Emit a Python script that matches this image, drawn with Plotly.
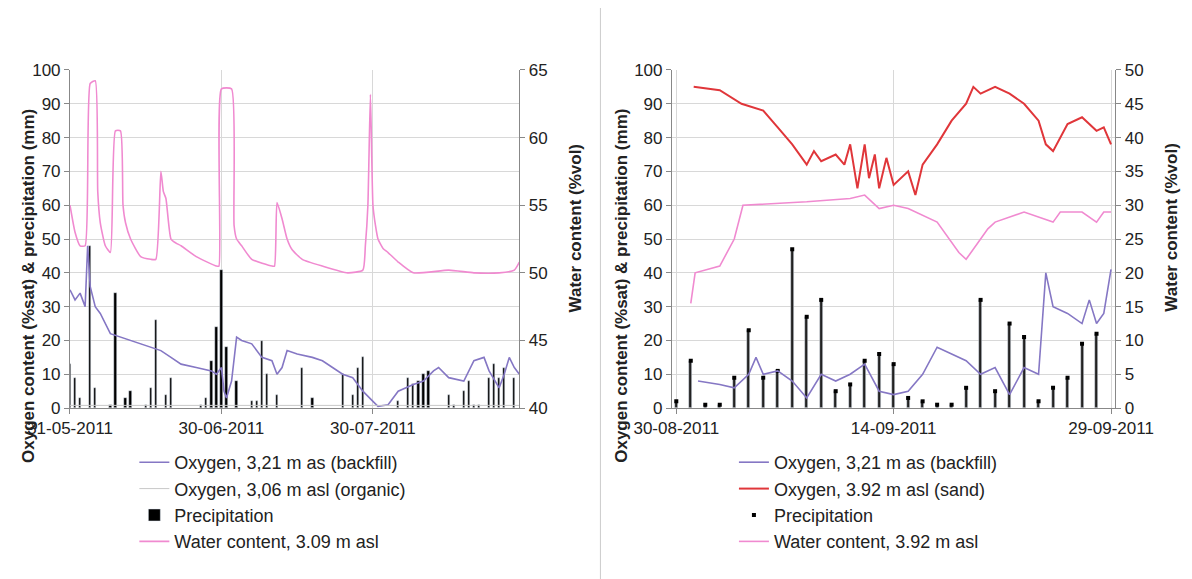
import plotly.graph_objects as go

# ---------- Left panel data (day index from 31-05-2011) ----------
L_ticks = [0, 30, 60]
L_ticklabels = ["31-05-2011", "30-06-2011", "30-07-2011"]
L_wc_day = [0,1,2,3,4,5,5.5,6,7,8,9,10,10.5,11,12,14,16,17,18,18.5,19,20,21,22,25,29,29.5,30,32,32.5,33,34,36,40,40.5,41,42,43,44,46,50,55,58,58.5,59,59.5,60,60.5,61,62,63,65,68,75,80,85,88,89]
L_wc = [55,53,52,52,64,64.2,56,53.7,52,51.5,60.5,60.5,55,53.7,52.5,51.2,51,51,57.5,56,55.5,52.5,52.2,52,51.2,50.5,50.5,63.6,63.6,53.5,52.5,52,51,50.5,50.5,55.2,54,52.5,51.7,51,50.5,50,50.2,52,55,63.2,55,53.5,52.5,51.8,51.5,50.8,50,50.2,50,50,50.2,50.8]
L_ox_day = [0,1,2,3,3.5,4,5,6,8,10,12,14,16,18,20,22,25,28,29,30,30.5,31,32,33,34,36,38,40,41,42,43,45,48,50,52,54,56,58,60,61,63,65,68,70,72,73,75,78,80,82,83,85,86,87,88,89]
L_ox = [35,32,34,30,48,36,30,28,22,21,20,19,18,17,15,13,12,11,10,12,5,3,8,21,20,19,15,14,10,12,17,16,15,14,12,10,9,5,2,0.5,1,5,7,8,11,12,9,8,14,15,11,6,10,15,12,10]
L_org_day = [0, 89]
L_org = [0.8, 0.8]
L_p_day = [0,1,2,4,5,8,9,11,12,15,16,17,19,20,26,27,28,29,30,31,33,36,37,38,39,41,46,48,54,56,57,58,65,67,68,69,70,71,75,76,78,79,80,81,83,84,85,86,88]
L_p = [13,9,3,48,6,1,34,3,5,1,6,26,4,9,1,3,14,24,41,18,8,2,2,20,10,4,12,3,10,4,12,15,2,9,7,8,10,11,4,1,5,8,1,1,9,13,9,12,9]

# ---------- Right panel data (day index from 30-08-2011) ----------
R_ticks = [0, 15, 30]
R_ticklabels = ["30-08-2011", "14-09-2011", "29-09-2011"]
R_wc_day = [1,1.3,3,4,4.6,9,12,13,14,15,16,18,19.5,20,21,21.5,22,24,26,26.5,28,29,29.5,30]
R_wc = [15.5,20,21,25,30,30.5,31,31.5,29.5,30,29.5,27.5,23,22,25,26.5,27.5,29,27.5,29,29,27.5,29,29]
R_sand_day = [1.2,3,4.5,6,7,8,9,9.5,10,11,11.6,12,12.5,13,13.3,13.7,14,14.5,15,16,16.5,17,18,19,20,20.5,21,22,23,24,25,25.5,26,26.5,27,28,29,29.5,30]
R_sand = [95,94,90,88,83,78,72,76,73,75,72,78,65,78,68,75,65,74,66,70,63,72,78,85,90,95,93,95,93,90,85,78,76,80,84,86,82,83,78]
R_back_day = [1.5,3,4,5,5.5,6,7,8,9,10,11,12,13,14,15,16,17,18,19,20,21,22,23,24,25,25.5,26,27,28,28.5,29,29.5,30]
R_back = [8,7,6,10,15,10,11,8,3,10,8,10,13,5,4,5,10,18,16,14,10,12,4,12,10,40,30,28,25,32,25,28,41]
R_p_day = list(range(0, 30))
R_p = [2,14,1,1,9,23,9,11,47,27,32,5,7,14,16,13,3,2,1,1,6,32,5,25,21,2,6,9,19,22]

PURPLE = "#8577c4"
PINK = "#f08ad0"
RED = "#e0363a"
FONT = "Liberation Sans"

fig = go.Figure()
fig.add_trace(go.Bar(x=L_p_day, y=L_p, name="Precipitation", marker_color="black", width=0.45,
                     xaxis="x", yaxis="y", legend="legend", legendrank=3))
fig.add_trace(go.Scatter(x=L_ox_day, y=L_ox, mode="lines", name="Oxygen, 3,21 m as (backfill)",
                         line=dict(color=PURPLE, width=1.6), xaxis="x", yaxis="y", legend="legend", legendrank=1))
fig.add_trace(go.Scatter(x=L_org_day, y=L_org, mode="lines", name="Oxygen, 3,06 m asl (organic)",
                         line=dict(color="#c8c8c8", width=1), xaxis="x", yaxis="y", legend="legend", legendrank=2))
fig.add_trace(go.Scatter(x=L_wc_day, y=L_wc, mode="lines", name="Water content, 3.09 m asl",
                         line=dict(color=PINK, width=1.6, shape="spline", smoothing=0.5), xaxis="x", yaxis="y2",
                         legend="legend", legendrank=4))
fig.add_trace(go.Bar(x=R_p_day, y=R_p, name="Precipitation", marker_color="#222", width=0.2,
                     xaxis="x2", yaxis="y3", legend="legend2", legendrank=3, showlegend=False))
fig.add_trace(go.Scatter(x=R_p_day, y=R_p, mode="markers", name="Precipitation",
                         marker=dict(color="black", size=4, symbol="square"), xaxis="x2", yaxis="y3",
                         legend="legend2", legendrank=3))
fig.add_trace(go.Scatter(x=R_back_day, y=R_back, mode="lines", name="Oxygen, 3,21 m as (backfill)",
                         line=dict(color=PURPLE, width=1.6), xaxis="x2", yaxis="y3", legend="legend2", legendrank=1))
fig.add_trace(go.Scatter(x=R_sand_day, y=R_sand, mode="lines", name="Oxygen, 3.92 m asl (sand)",
                         line=dict(color=RED, width=2), xaxis="x2", yaxis="y3", legend="legend2", legendrank=2))
fig.add_trace(go.Scatter(x=R_wc_day, y=R_wc, mode="lines", name="Water content, 3.92 m asl",
                         line=dict(color=PINK, width=1.6), xaxis="x2", yaxis="y4", legend="legend2", legendrank=4))

ax = dict(showline=True, linecolor="#888", ticks="outside", tickcolor="#888", tickfont=dict(size=17, color="#222"),
          zeroline=False, automargin=False)
YD = [0.309, 0.893]
yl = dict(ax, showgrid=True, gridcolor="#d8d8d8", range=[0, 100], dtick=10, domain=YD)
fig.update_layout(
    width=1192, height=579, paper_bgcolor="white", plot_bgcolor="white",
    margin=dict(l=0, r=0, t=0, b=0), font=dict(family=FONT, size=17, color="#222"),
    bargap=0, barmode="overlay",
    xaxis=dict(ax, domain=[0.052, 0.429], range=[0, 89], tickvals=L_ticks, ticktext=L_ticklabels,
               showgrid=True, gridcolor="#d8d8d8", anchor="y"),
    yaxis=dict(yl, anchor="x"),
    yaxis2=dict(ax, overlaying="y", side="right", anchor="x", range=[40, 65], dtick=5, showgrid=False),
    xaxis2=dict(ax, domain=[0.557, 0.929], range=[-0.3, 30.3], tickvals=R_ticks, ticktext=R_ticklabels,
                showgrid=True, gridcolor="#d8d8d8", anchor="y3"),
    yaxis3=dict(yl, anchor="x2"),
    yaxis4=dict(ax, overlaying="y3", side="right", anchor="x2", range=[0, 50], dtick=5, showgrid=False),
    legend=dict(x=0.106, y=0.247, xanchor="left", yanchor="top", font=dict(size=18), tracegroupgap=2,
                bgcolor="rgba(0,0,0,0)"),
    legend2=dict(x=0.609, y=0.247, xanchor="left", yanchor="top", font=dict(size=18), tracegroupgap=2,
                 bgcolor="rgba(0,0,0,0)"),
)
for xp in [0.008, 0.515]:
    fig.add_annotation(text="<b>Oxygen content (%sat) & precipitation (mm)</b>", x=xp, y=0.52, xref="paper",
                       yref="paper", textangle=-90, showarrow=False, font=dict(size=17))
for xp in [0.476, 0.985]:
    fig.add_annotation(text="<b>Water content (%vol)</b>", x=xp, y=0.62, xref="paper", yref="paper",
                       textangle=-90, showarrow=False, font=dict(size=17))
fig.add_shape(type="line", x0=0.497, x1=0.497, y0=0, y1=1, xref="paper", yref="paper",
              line=dict(color="#ccc", width=1))
fig.write_html("out.html")
